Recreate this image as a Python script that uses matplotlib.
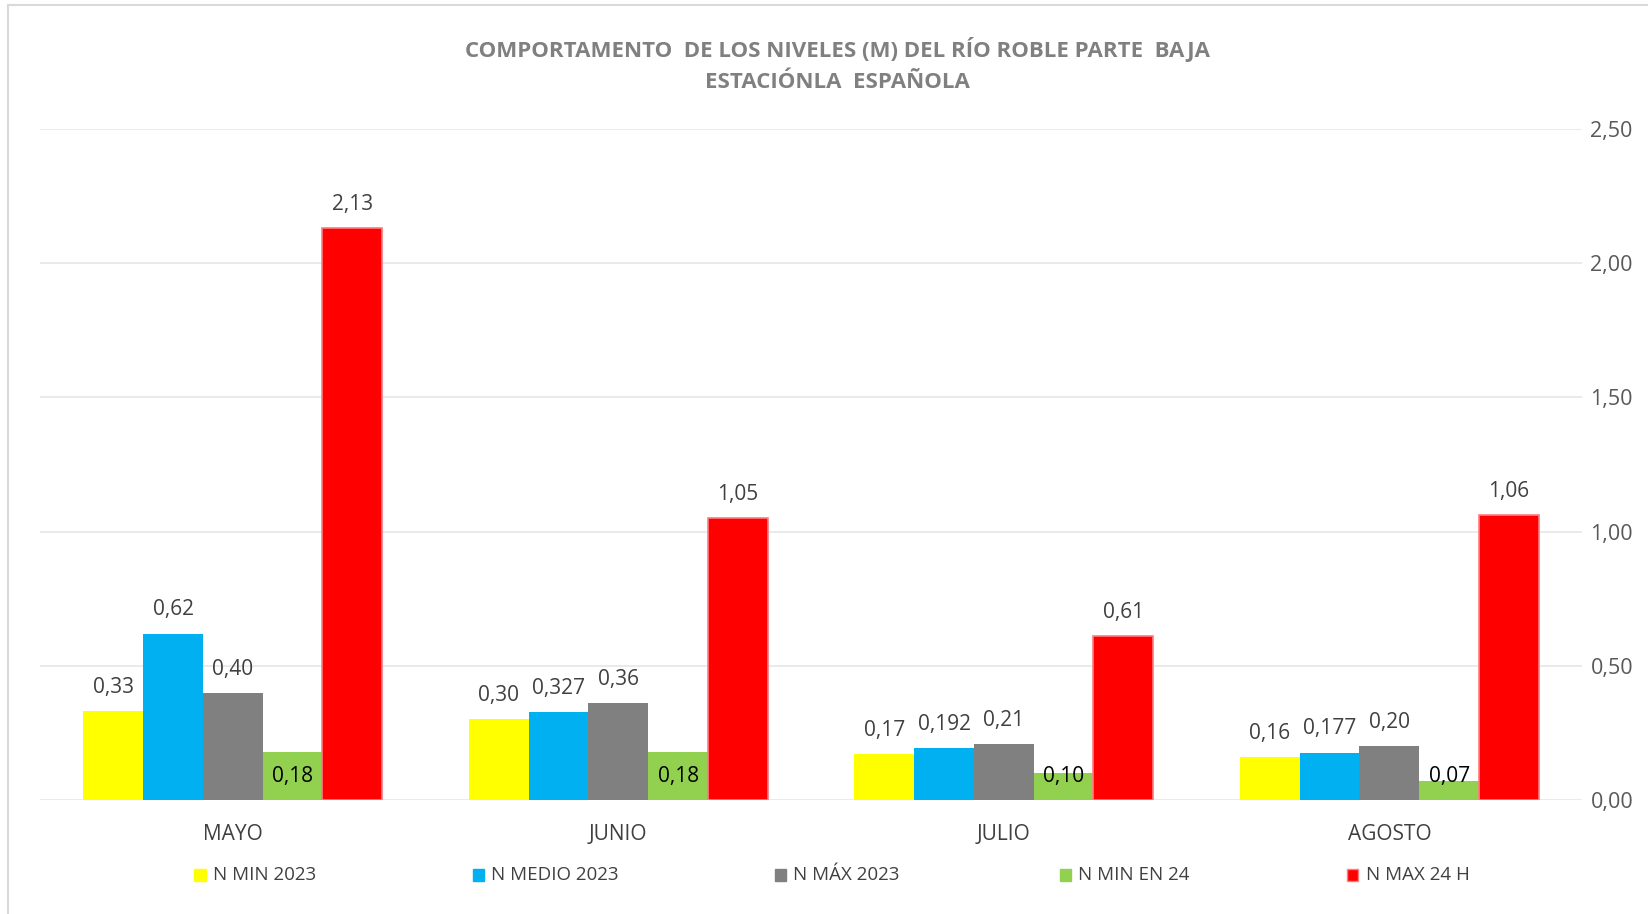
import numpy as np
import matplotlib
matplotlib.use('Agg')
import matplotlib.pyplot as plt
from matplotlib.patches import Rectangle
from matplotlib.lines import Line2D

plt.rcParams['font.family'] = ['Open Sans', 'DejaVu Sans']

# Niveles del río por mes (m)
meses = ['MAYO', 'JUNIO', 'JULIO', 'AGOSTO']
series = ['N MIN 2023', 'N MEDIO 2023', 'N MÁX 2023', 'N MIN EN 24', 'N MAX 24 H']
n_min_2023 = [0.33, 0.30, 0.17, 0.16]
n_medio_2023 = [0.62, 0.327, 0.192, 0.177]
n_max_2023 = [0.40, 0.36, 0.21, 0.20]
n_min_24 = [0.18, 0.18, 0.10, 0.07]
n_max_24h = [2.13, 1.05, 0.61, 1.06]
y_ticks = [0.0, 0.5, 1.0, 1.5, 2.0, 2.5]

valores = [n_min_2023, n_medio_2023, n_max_2023, n_min_24, n_max_24h]
colores = ['#ffff00', '#00b0f0', '#808080', '#92d050', '#ff0000']
bordes = [None, None, None, None, '#ff7c80']


def etiqueta(v):
    # dos decimales, o tres si hace falta, con coma decimal
    if abs(round(v, 2) - v) < 1e-9:
        s = f'{v:.2f}'
    else:
        s = f'{v:.3f}'
    return s.replace('.', ',')


fig = plt.figure(figsize=(16.48, 9.14), dpi=100)
ax = fig.add_axes([0.0243, 0.1247, 0.9357, 0.7342])

x = np.arange(len(meses))
ancho = 0.155
for i, (vals, col, borde) in enumerate(zip(valores, colores, bordes)):
    pos = x + (i - 2) * ancho
    if borde:
        bars = ax.bar(pos, vals, ancho, color=col, edgecolor=borde, linewidth=1.2, zorder=3)
    else:
        bars = ax.bar(pos, vals, ancho, color=col, zorder=3)
    for b, v in zip(bars, vals):
        cx = b.get_x() + b.get_width() / 2
        if i == 3:
            # etiqueta del mínimo en 24 h dentro de la barra, cerca de la base
            ax.annotate(etiqueta(v), (cx, 0), xytext=(0, 17), textcoords='offset points',
                        ha='center', va='center', fontsize=15, color='#000000', zorder=4)
        else:
            ax.annotate(etiqueta(v), (cx, v), xytext=(0, 17), textcoords='offset points',
                        ha='center', va='center', fontsize=15, color='#404040', zorder=4)

ax.set_xlim(-0.5, len(meses) - 0.5)
ax.set_ylim(0, 2.5)
ax.set_yticks(y_ticks)
ax.set_yticklabels([f'{t:.2f}'.replace('.', ',') for t in y_ticks])
ax.yaxis.tick_right()
ax.set_xticks(x)
ax.set_xticklabels(meses)
ax.tick_params(axis='y', length=0, pad=6, labelsize=15.5, labelcolor='#595959')
ax.tick_params(axis='x', length=0, pad=17, labelsize=15, labelcolor='#404040')
for s in ax.spines.values():
    s.set_visible(False)
ax.grid(axis='y', color='#e6e6e6', linewidth=1.2, zorder=0)
ax.set_axisbelow(True)

# Título
fig.text(0.508, 0.946, 'COMPORTAMENTO  DE LOS NIVELES (M) DEL RÍO ROBLE PARTE  BAJA',
         ha='center', va='center', fontsize=16, fontweight='bold', color='#808080')
fig.text(0.508, 0.910, 'ESTACIÓNLA  ESPAÑOLA',
         ha='center', va='center', fontsize=16, fontweight='bold', color='#808080')

# Leyenda
leyenda_x = [0.118, 0.287, 0.470, 0.643, 0.8176]
ley_y = 0.0425
for nombre, col, borde, lx in zip(series, colores, bordes, leyenda_x):
    fig.patches.append(Rectangle((lx, ley_y - 0.0066), 0.0067, 0.0131, transform=fig.transFigure,
                                 facecolor=col, edgecolor=borde if borde else col, linewidth=1))
    fig.text(lx + 0.011, ley_y, nombre, ha='left', va='center', fontsize=13.5, color='#404040')

# Marco del gráfico
fig.lines.append(Line2D([0.005, 0.005], [0, 0.994], transform=fig.transFigure, color='#d9d9d9', linewidth=1.5))
fig.lines.append(Line2D([0.005, 1], [0.994, 0.994], transform=fig.transFigure, color='#d9d9d9', linewidth=1.5))

plt.savefig('out.png', dpi=100, facecolor='white')
